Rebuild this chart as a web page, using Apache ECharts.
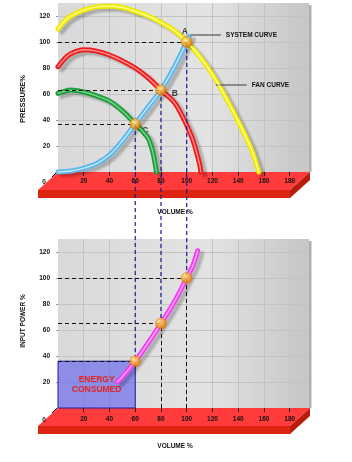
<!DOCTYPE html>
<html><head><meta charset="utf-8">
<script src="https://cdn.jsdelivr.net/npm/echarts@6/dist/echarts.min.js"></script>
<style>html,body{margin:0;padding:0;background:#fff}#c{width:352px;height:462px}</style>
</head><body><div id="c"></div>
<script>
// ---- data ----
const xTicks = [20,40,60,80,100,120,140,160,180];
const yTicks = [20,40,60,80,100,120];
const fanCurve = [[0,110],[5,116],[10,120],[20,124.5],[30,127],[40,127.5],[50,126.5],[60,123.5],[70,120],[80,115],[90,109],[100,100],[110,89],[120,75],[130,58],[140,39],[150,18],[156,0]];
const fanCurve80 = [[0,81],[5,87],[10,91],[20,94],[30,93],[40,90],[50,85.5],[60,80],[70,72.5],[80,63],[90,54],[95,46],[100,36],[105,24],[110,6],[111,0]];
const fanCurve60 = [[0,60.5],[5,62],[10,63],[20,61.5],[30,58.5],[40,54.5],[50,47],[60,37],[65,32],[70,26],[72,21],[74,14],[76.5,0]];
const systemCurve = [[0,0],[10,0.8],[20,3],[30,6.5],[40,13],[50,24],[60,37],[70,50],[80,63],[90,80],[100,100],[102,104]];
const powerCurve = [[46,20],[50,24],[60,36],[70,50],[80,65],[90,81],[100,100],[105,110],[108.5,121]];
const opNames = ['C','B','A'];
const opVolume = [60,80,100];
const opPressure = [37,63,100];
const opPower = [36,65,100];
const systemCallout = [[103,105.4],[126.5,105.4]];
const fanCallout = [[122.6,66.9],[146.6,66.9]];

const FONT = '"Liberation Sans", Arial, sans-serif';
const chart = echarts.init(document.getElementById('c'), null, {renderer:'canvas'});

const panelBg = {type:'linear',x:0,y:0,x2:1,y2:0,colorStops:[{offset:0,color:'#d9d9d9'},{offset:0.6,color:'#e3e3e3'},{offset:1,color:'#c6c6c6'}]};
function grid(top){return {left:58, top:top, width:251, height:169, show:true, borderWidth:0, backgroundColor:panelBg};}
function xAx(gi, margin){return {type:'value', gridIndex:gi, min:0, max:195, interval:20,
  axisLine:{show:false},
  axisTick:{show:true, customValues:xTicks, length:4, lineStyle:{color:'#111',width:1}},
  axisLabel:{customValues:xTicks, margin:margin, fontSize:6.5, fontWeight:'bold', color:'#111', fontFamily:FONT,
    formatter:v=>xTicks.includes(v)?String(v):''},
  splitLine:{show:true, lineStyle:{color:'#c3c3c3', width:1}}};}
function yAx(gi){return {type:'value', gridIndex:gi, min:0, max:130, interval:20,
  axisLine:{show:false},
  axisTick:{show:true, customValues:yTicks, length:2, lineStyle:{color:'#999'}},
  axisLabel:{customValues:yTicks, margin:8, fontSize:6.5, fontWeight:'bold', color:'#111', fontFamily:FONT,
    formatter:v=>yTicks.includes(v)?String(v):''},
  splitLine:{show:true, lineStyle:{color:'#c3c3c3', width:1}}};}

const series = [];
function curve(data, color, hi, gi){
  series.push({type:'line', xAxisIndex:gi, yAxisIndex:gi, data:data, smooth:0.35, symbol:'none', clip:false, z:3,
    lineStyle:{color:color, width:5, cap:'round', shadowColor:'rgba(0,0,0,0.22)', shadowBlur:2, shadowOffsetX:4, shadowOffsetY:3}});
  series.push({type:'line', xAxisIndex:gi, yAxisIndex:gi, data:data, smooth:0.35, symbol:'none', clip:false, z:4,
    lineStyle:{color:hi, width:1.4, cap:'round'}});
}
const dash = {color:'#111', width:1, type:[4,3]};
// top chart dashed guides
series.push({type:'line', xAxisIndex:0, yAxisIndex:0, data:[], z:2,
  markLine:{silent:true, symbol:'none', label:{show:false}, lineStyle:dash,
    data: opVolume.map((v,i)=>[{coord:[0,opPressure[i]]},{coord:[v,opPressure[i]]}])}});
// C label (sits beneath green curve)
series.push({type:'scatter', xAxisIndex:0, yAxisIndex:0, symbolSize:0, z:2,
  data:[[opVolume[0],opPressure[0]]],
  label:{show:true, formatter:opNames[0], position:'right', offset:[2,7], fontSize:8.5, fontWeight:'bold', color:'#111', fontFamily:FONT}});
curve(fanCurve, '#efe800', '#ffff90', 0);
curve(fanCurve80, '#ee1b1b', '#ff9090', 0);
curve(fanCurve60, '#1f9c3c', '#7ad48a', 0);
curve(systemCurve, '#5cb6ec', '#c4e8ff', 0);
// callouts
[[systemCallout,'SYSTEM CURVE'],[fanCallout,'FAN CURVE']].forEach(([d,t])=>{
  series.push({type:'line', xAxisIndex:0, yAxisIndex:0, data:d, symbol:'none', z:3,
    lineStyle:{color:'#6e6e6e', width:1.5},
    endLabel:{show:true, formatter:t, distance:5, fontSize:6.5, fontWeight:'bold', color:'#111', fontFamily:FONT}});
});
const ball = {type:'radial', x:0.4, y:0.35, r:0.65, colorStops:[{offset:0,color:'#fff6b0'},{offset:0.45,color:'#ffb52a'},{offset:1,color:'#d97000'}]};
series.push({type:'scatter', xAxisIndex:0, yAxisIndex:0, symbolSize:11, z:6,
  itemStyle:{color:ball, borderColor:'#c86a00', borderWidth:0.5},
  data: opVolume.map((v,i)=>({value:[v,opPressure[i]],
    label: i===0?{show:false}: (i===1?{show:true, formatter:opNames[i], position:'right', offset:[0,4]}:{show:true, formatter:opNames[i], position:'top', offset:[-2,1], distance:1})})),
  label:{fontSize:8.5, fontWeight:'bold', color:'#111', fontFamily:FONT}});

// bottom chart
series.push({type:'line', xAxisIndex:1, yAxisIndex:1, data:[], z:2,
  markLine:{silent:true, symbol:'none', label:{show:false}, lineStyle:dash,
    data: opVolume.map((v,i)=>[{coord:[0,opPower[i]]},{coord:[v,opPower[i]]}])
      .concat(opVolume.slice(1).map((v,i)=>[{coord:[v,0]},{coord:[v,opPower[i+1]]}]))}});
curve(powerCurve, '#f23ef2', '#ffa8ff', 1);
series.push({type:'line', xAxisIndex:1, yAxisIndex:1, data:[], z:5,
  markArea:{silent:true,
    itemStyle:{color:'rgba(100,100,240,0.65)', borderColor:'#1c1c9c', borderWidth:1},
    label:{show:true, position:'inside', formatter:'ENERGY\nCONSUMED', color:'#e6231b', fontWeight:'bold', fontSize:8.5, lineHeight:10, fontFamily:FONT},
    data:[[{coord:[0,0]},{coord:[opVolume[0],opPower[0]]}]]}});
series.push({type:'scatter', xAxisIndex:1, yAxisIndex:1, symbolSize:11, z:6,
  itemStyle:{color:ball, borderColor:'#c86a00', borderWidth:0.5},
  data: opVolume.map((v,i)=>[v,opPower[i]])});

const option = {
  animation:false,
  grid:[grid(3), grid(239)],
  xAxis:[xAx(0,6), xAx(1,8)],
  yAxis:[yAx(0), yAx(1)],
  series:series
};
chart.setOption(option);

// decorations
const els = [];
function slab(yb){
  const yf = yb+18, ybt = yb+26;
  els.push({type:'polygon', z:-1, shape:{points:[[58,yb],[310,yb],[290,yf],[38,yf]]}, style:{fill:'#ff3b3b'}});
  els.push({type:'polygon', z:-1, shape:{points:[[38,yf],[290,yf],[290,ybt],[38,ybt]]}, style:{fill:'#dc2410'}});
  els.push({type:'polygon', z:-1, shape:{points:[[310,yb],[310,yb+8],[290,ybt],[290,yf]]}, style:{fill:'#b81c08'}});
  els.push({type:'rect', z:-1, shape:{x:309, y:yb-167, width:2.5, height:167}, style:{fill:'#b0b0b0'}});
  els.push({type:'line', z:3, shape:{x1:52,y1:yb+5,x2:57,y2:yb}, style:{stroke:'#111', lineWidth:1}});
  els.push({type:'text', z:3, x:44, y:yb+10+(yb>300?2:0), style:{text:'0', font:'bold 6.5px '+FONT, fill:'#111', textAlign:'center', textVerticalAlign:'middle'}});
}
const p0 = chart.convertToPixel({xAxisIndex:0,yAxisIndex:0},[0,0]);
const p1 = chart.convertToPixel({xAxisIndex:1,yAxisIndex:1},[0,0]);
slab(p0[1]); slab(p1[1]);
[['VOLUME %',175,212],['VOLUME %',175,446]].forEach(([t,x,y])=>els.push({type:'text', z:3, x:x, y:y, style:{text:t, font:'bold 6.5px '+FONT, fill:'#111', textAlign:'center', textVerticalAlign:'middle'}}));
[['PRESSURE%',23,99,7.5],['INPUT POWER %',23,321,6.5]].forEach(([t,x,y,s])=>els.push({type:'text', z:3, x:x, y:y, rotation:Math.PI/2, style:{text:t, font:'bold '+s+'px '+FONT, fill:'#111', textAlign:'center', textVerticalAlign:'middle'}}));
opVolume.forEach((v,i)=>{
  const a = chart.convertToPixel({xAxisIndex:0,yAxisIndex:0},[v,opPressure[i]]);
  const b = chart.convertToPixel({xAxisIndex:1,yAxisIndex:1},[v,opPower[i]]);
  els.push({type:'line', z:5, shape:{x1:a[0],y1:a[1],x2:b[0],y2:b[1]}, style:{stroke:'#1b1b90', lineWidth:1.2, lineDash:[4,3]}});
});
chart.setOption({graphic:{elements:els}});
</script>
</body></html>
